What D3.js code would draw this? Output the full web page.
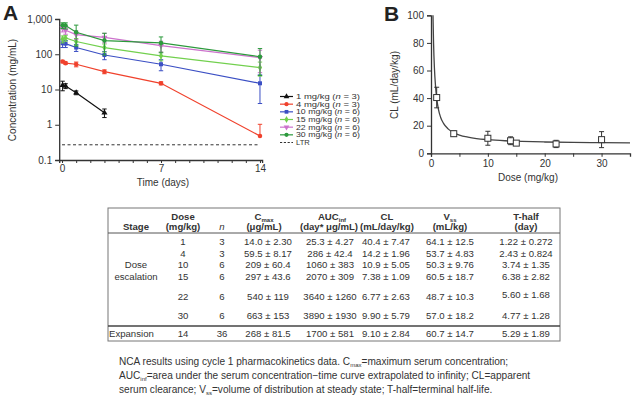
<!DOCTYPE html>
<html><head><meta charset="utf-8">
<script src="https://cdn.jsdelivr.net/npm/d3@7"></script>
<style>
body{margin:0;background:#fff;}
svg{display:block;font-family:"Liberation Sans",Arial,sans-serif;}
</style></head>
<body><svg id="c" width="635" height="400"></svg>
<script>
// ---------- Panel A data ----------
const times = [0.04, 0.25, 1, 3, 7, 14];
const seriesNames = ["1 mg/kg", "4 mg/kg", "10 mg/kg", "15 mg/kg", "22 mg/kg", "30 mg/kg"];
const seriesN = [3, 3, 6, 6, 6, 6];
const conc1 = [13.2, 12.6, 8.1, 2.2];
const err1 = [4, 2, 1, 0.6];
const conc4 = [62, 56, 52, 32, 15, 0.48];
const err4 = [5, 4, 8, 4, 1.5, 0.55];
const conc10 = [205, 200, 155, 95, 52, 15];
const err10 = [50, 45, 35, 25, 18, 11];
const conc15 = [270, 290, 230, 155, 90, 42];
const err15 = [60, 55, 50, 40, 25, 18];
const conc22 = [550, 480, 360, 300, 175, 80];
const err22 = [120, 110, 100, 90, 60, 50];
const conc30 = [660, 650, 420, 245, 210, 85];
const err30 = [120, 130, 250, 150, 100, 60];
const ltr = 0.27;
const yTicksA = [0.1, 1, 10, 100, 1000];
const yTickLabelsA = ["0.1", "1", "10", "100", "1,000"];
const xTicksA = [0, 7, 14];

// ---------- Panel B data ----------
const doses = [1, 4, 10, 14, 15, 22, 30];
const clMean = [40.4, 14.2, 10.9, 9.10, 7.38, 6.77, 9.90];
const clSD = [7.47, 1.96, 5.05, 2.84, 1.09, 2.63, 5.79];
const curveDose = [0.35, 0.45, 0.6, 0.8, 1, 1.3, 1.7, 2.2, 3, 4, 5, 6.5, 8, 10, 13, 16, 20, 25, 30, 35];
const curveCL = [100, 80, 62, 48.5, 40, 32, 26, 21.7, 17.7, 14.9, 13.2, 11.7, 10.7, 9.9, 9.1, 8.6, 8.2, 7.9, 7.7, 7.5];
const xTicksB = [0, 10, 20, 30];
const yTicksB = [0, 20, 40, 60, 80, 100];

// ---------- Table data ----------
const tableStage = ["", "", "Dose", "escalation", "", "", "Expansion"];
const tableDose = ["1", "4", "10", "15", "22", "30", "14"];
const tableN = ["3", "3", "6", "6", "6", "6", "36"];
const tableCmax = ["14.0 ± 2.30", "59.5 ± 8.17", "209 ± 60.4", "297 ± 43.6", "540 ± 119", "663 ± 153", "268 ± 81.5"];
const tableAUC = ["25.3 ± 4.27", "286 ± 42.4", "1060 ± 383", "2070 ± 309", "3640 ± 1260", "3890 ± 1930", "1700 ± 581"];
const tableCL = ["40.4 ± 7.47", "14.2 ± 1.96", "10.9 ± 5.05", "7.38 ± 1.09", "6.77 ± 2.63", "9.90 ± 5.79", "9.10 ± 2.84"];
const tableVss = ["64.1 ± 12.5", "53.7 ± 4.83", "50.3 ± 9.76", "60.5 ± 18.7", "48.7 ± 10.3", "57.0 ± 18.2", "60.7 ± 14.7"];
const tableThalf = ["1.22 ± 0.272", "2.43 ± 0.824", "3.74 ± 1.35", "6.38 ± 2.82", "5.60 ± 1.68", "4.77 ± 1.28", "5.29 ± 1.89"];

// ---------- styles ----------
const colors = ["#111111", "#f0412c", "#3b4fc4", "#72d04e", "#cc72cc", "#2c9a3c"];
const symbols = [d3.symbolTriangle, d3.symbolCircle, d3.symbolSquare, d3.symbolDiamond, d3.symbolTriangle, d3.symbolCircle];
const symRot = [0, 0, 0, 0, 180, 0];
const axisCol = "#333";

const svg = d3.select("#c");

// ================= Panel A =================
const xA = d3.scaleLinear().domain([-0.2, 14.15]).range([59.2, 262.1]);
const yA = d3.scaleLog().domain([0.1, 1000]).range([160, 19]);

const gA = svg.append("g");
const axA = d3.axisBottom(xA).tickValues(d3.range(0, 15)).tickSize(3)
  .tickFormat(d => xTicksA.includes(d) ? String(d) : "");
const gx = gA.append("g").attr("transform", "translate(0,160)").call(axA);
gx.select(".domain").attr("stroke", axisCol).attr("stroke-width", 1.3);
gx.selectAll(".tick line").attr("stroke", axisCol);
gx.selectAll(".tick text").attr("font-size", 10).attr("fill", axisCol).attr("dy", "0.6em")
  .attr("font-family", "Liberation Sans, Arial, sans-serif");
const ayA = d3.axisLeft(yA).tickValues(yTicksA).tickSize(4)
  .tickFormat((d, i) => yTickLabelsA[i]);
const gy = gA.append("g").attr("transform", "translate(59.2,0)").call(ayA);
gy.select(".domain").attr("stroke", axisCol).attr("stroke-width", 1.3);
gy.selectAll(".tick line").attr("stroke", axisCol);
gy.selectAll(".tick text").attr("font-size", 10).attr("fill", axisCol)
  .attr("font-family", "Liberation Sans, Arial, sans-serif");

gA.append("line").attr("x1", xA(0)).attr("x2", xA(14)).attr("y1", yA(ltr)).attr("y2", yA(ltr))
  .attr("stroke", "#333").attr("stroke-width", 1).attr("stroke-dasharray", "3,2.5");

const allConc = [conc1, conc4, conc10, conc15, conc22, conc30];
const allErr = [err1, err4, err10, err15, err22, err30];
const seriesData = allConc.map((vals, s) => vals.map((v, i) => ({t: times[i], v, e: allErr[s][i]})));

const lineA = d3.line().x(d => xA(d.t)).y(d => yA(d.v));
seriesData.forEach((pts, s) => {
  const g = gA.append("g");
  pts.forEach(p => {
    const x = xA(p.t);
    const top = yA(p.v + p.e);
    const lowV = p.v - p.e;
    const bot = lowV > 0.1 ? yA(lowV) : null;
    g.append("line").attr("x1", x).attr("x2", x).attr("y1", top).attr("y2", bot === null ? yA(p.v) : bot)
      .attr("stroke", colors[s]).attr("stroke-width", 1);
    g.append("line").attr("x1", x - 2.2).attr("x2", x + 2.2).attr("y1", top).attr("y2", top)
      .attr("stroke", colors[s]).attr("stroke-width", 1);
    if (bot !== null) g.append("line").attr("x1", x - 2.2).attr("x2", x + 2.2).attr("y1", bot).attr("y2", bot)
      .attr("stroke", colors[s]).attr("stroke-width", 1);
  });
  g.append("path").datum(pts).attr("d", lineA).attr("fill", "none")
    .attr("stroke", colors[s]).attr("stroke-width", 1.2);
  g.selectAll("path.m").data(pts).join("path").attr("class", "m")
    .attr("d", d3.symbol().type(symbols[s]).size(16))
    .attr("transform", d => `translate(${xA(d.t)},${yA(d.v)}) rotate(${symRot[s]})`)
    .attr("fill", colors[s]);
});

gA.append("text").attr("transform", "translate(16,90) rotate(-90)").attr("text-anchor", "middle")
  .attr("font-size", 10).attr("fill", axisCol).text("Concentration (mg/mL)");
gA.append("text").attr("x", 163).attr("y", 186).attr("text-anchor", "middle")
  .attr("font-size", 10).attr("fill", axisCol).text("Time (days)");
svg.append("text").attr("x", 3).attr("y", 20).attr("font-size", 21).attr("font-weight", "bold")
  .attr("fill", "#222").text("A");

// legend
const legY = d3.scalePoint().domain(d3.range(7)).range([96.5, 142.5]);
const leg = gA.append("g");
seriesNames.forEach((nm, s) => {
  const y = legY(s);
  leg.append("line").attr("x1", 280).attr("x2", 293).attr("y1", y).attr("y2", y)
    .attr("stroke", colors[s]).attr("stroke-width", 1.2);
  leg.append("path").attr("d", d3.symbol().type(symbols[s]).size(14)())
    .attr("transform", `translate(286.5,${y}) rotate(${symRot[s]})`).attr("fill", colors[s]);
  const t = leg.append("text").attr("x", 296).attr("y", y + 2.6).attr("font-size", 7.3).attr("fill", axisCol)
    .attr("textLength", 64).attr("lengthAdjust", "spacingAndGlyphs");
  t.append("tspan").text(nm + " (");
  t.append("tspan").attr("font-style", "italic").text("n");
  t.append("tspan").text(" = " + seriesN[s] + ")");
});
leg.append("line").attr("x1", 280).attr("x2", 293).attr("y1", legY(6)).attr("y2", legY(6))
  .attr("stroke", "#333").attr("stroke-width", 1).attr("stroke-dasharray", "2.2,1.6");
leg.append("text").attr("x", 296).attr("y", legY(6) + 2.6).attr("font-size", 7.6).attr("fill", axisCol).text("LTR");

// ================= Panel B =================
const xB = d3.scaleLinear().domain([0, 35]).range([431, 630]);
const yB = d3.scaleLinear().domain([0, 100]).range([153.3, 15.3]);
const gB = svg.append("g");
const axB = d3.axisBottom(xB).tickValues(d3.range(0, 35, 5)).tickSize(3.5)
  .tickFormat(d => xTicksB.includes(d) ? String(d) : "");
const gbx = gB.append("g").attr("transform", "translate(0,153.3)").call(axB);
gbx.select(".domain").attr("stroke", axisCol).attr("stroke-width", 1.3);
gbx.selectAll(".tick line").attr("stroke", axisCol);
gbx.selectAll(".tick text").attr("font-size", 10).attr("fill", axisCol).attr("dy", "0.75em")
  .attr("font-family", "Liberation Sans, Arial, sans-serif");
const ayB = d3.axisLeft(yB).tickValues(yTicksB).tickSize(4);
const gby = gB.append("g").attr("transform", "translate(431,0)").call(ayB);
gby.select(".domain").attr("stroke", axisCol).attr("stroke-width", 1.3);
gby.selectAll(".tick line").attr("stroke", axisCol);
gby.selectAll(".tick text").attr("font-size", 10).attr("fill", axisCol)
  .attr("font-family", "Liberation Sans, Arial, sans-serif");

const curvePts = curveDose.map((d, i) => [d, curveCL[i]]);
gB.append("path").datum(curvePts)
  .attr("d", d3.line().x(d => xB(d[0])).y(d => yB(d[1])).curve(d3.curveMonotoneX))
  .attr("fill", "none").attr("stroke", "#444").attr("stroke-width", 1.3);

doses.forEach((d, i) => {
  const x = xB(d), t = yB(clMean[i] + clSD[i]), b = yB(clMean[i] - clSD[i]);
  gB.append("line").attr("x1", x).attr("x2", x).attr("y1", t).attr("y2", b).attr("stroke", "#333").attr("stroke-width", 1);
  [t, b].forEach(yy => gB.append("line").attr("x1", x - 2.5).attr("x2", x + 2.5).attr("y1", yy).attr("y2", yy)
    .attr("stroke", "#333").attr("stroke-width", 1));
});
gB.selectAll("rect.pt").data(doses).join("rect").attr("class", "pt")
  .attr("x", d => xB(d) - 3).attr("y", (d, i) => yB(clMean[i]) - 3)
  .attr("width", 6).attr("height", 6).attr("fill", "#fff").attr("stroke", "#333").attr("stroke-width", 1);

gB.append("text").attr("transform", "translate(398,85) rotate(-90)").attr("text-anchor", "middle")
  .attr("font-size", 10).attr("fill", axisCol).text("CL (mL/day/kg)");
gB.append("text").attr("x", 528).attr("y", 181).attr("text-anchor", "middle")
  .attr("font-size", 10).attr("fill", axisCol).text("Dose (mg/kg)");
svg.append("text").attr("x", 384).attr("y", 21).attr("font-size", 21).attr("font-weight", "bold")
  .attr("fill", "#222").text("B");

// ================= Table =================
const tb = svg.append("g").attr("font-size", 9.6).attr("fill", "#333");
const tLeft = 108, tRight = 560, tTop = 208, tBottom = 341;
tb.append("rect").attr("x", tLeft).attr("y", tTop).attr("width", tRight - tLeft).attr("height", tBottom - tTop)
  .attr("fill", "none").attr("stroke", "#777").attr("stroke-width", 1);
tb.append("line").attr("x1", tLeft).attr("x2", tRight).attr("y1", 233).attr("y2", 233).attr("stroke", "#555").attr("stroke-width", 1);
tb.append("line").attr("x1", tLeft).attr("x2", tRight).attr("y1", 326).attr("y2", 326).attr("stroke", "#444").attr("stroke-width", 1.4);

const colX = [136, 183, 222, 268, 330, 386, 450, 526];
const h1 = 219.5, h2 = 230;
function hdr(x, y, parts) {
  const t = tb.append("text").attr("x", x).attr("y", y).attr("text-anchor", "middle").attr("font-weight", "bold");
  parts.forEach(p => {
    const s = t.append("tspan").text(p[0]);
    if (p[1] === "sub") s.attr("font-size", 6).attr("dy", 2);
    if (p[1] === "it") s.attr("font-style", "italic").attr("font-weight", "normal");
  });
}
hdr(colX[0], h2, [["Stage"]]);
hdr(colX[1], h1, [["Dose"]]);
hdr(colX[1], h2, [["(mg/kg)"]]);
hdr(colX[2], h2, [["n", "it"]]);
hdr(colX[3] - 4, h1, [["C"], ["max", "sub"]]);
hdr(colX[3] - 4, h2, [["(μg/mL)"]]);
hdr(colX[4] + 2, h1, [["AUC"], ["inf", "sub"]]);
hdr(colX[4] - 1, h2, [["(day* μg/mL)"]]);
hdr(colX[5] + 1, h1, [["CL"]]);
hdr(colX[5] + 1, h2, [["(mL/day/kg)"]]);
hdr(colX[6], h1, [["V"], ["ss", "sub"]]);
hdr(colX[6], h2, [["(mL/kg)"]]);
hdr(colX[7], h1, [["T-half"]]);
hdr(colX[7], h2, [["(day)"]]);

const rowY = [245, 256.5, 268, 279.5, 300, 319, 337];
const cols = [tableDose, tableN, tableCmax, tableAUC, tableCL, tableVss, tableThalf];
cols.forEach((col, c) => {
  tb.selectAll(null).data(col).join("text")
    .attr("x", colX[c + 1]).attr("y", (d, i) => rowY[i] - (c === 6 && i === 4 ? 2 : 0))
    .attr("text-anchor", "middle").text(d => d);
});
tb.selectAll(null).data(tableStage).join("text")
  .attr("x", (d, i) => i === 6 ? tLeft + 1 : colX[0])
  .attr("y", (d, i) => rowY[i])
  .attr("text-anchor", (d, i) => i === 6 ? "start" : "middle").text(d => d);

// ================= Caption =================
const cap = svg.append("g").attr("font-size", 10.1).attr("fill", "#333");
function capLine(y, parts) {
  const t = cap.append("text").attr("x", 119).attr("y", y);
  parts.forEach(p => {
    const s = t.append("tspan").text(p[0]);
    if (p[1] === "sub") s.attr("font-size", 6).attr("dy", 2);
    if (p[1] === "up") s.attr("dy", -2);
  });
}
capLine(365, [["NCA results using cycle 1 pharmacokinetics data. C"], ["max", "sub"], ["=maximum serum concentration;", "up"]]);
capLine(379, [["AUC"], ["inf", "sub"], ["=area under the serum concentration−time curve extrapolated to infinity; CL=apparent", "up"]]);
capLine(393, [["serum clearance; V"], ["ss", "sub"], ["=volume of distribution at steady state; T-half=terminal half-life.", "up"]]);
</script></body></html>
